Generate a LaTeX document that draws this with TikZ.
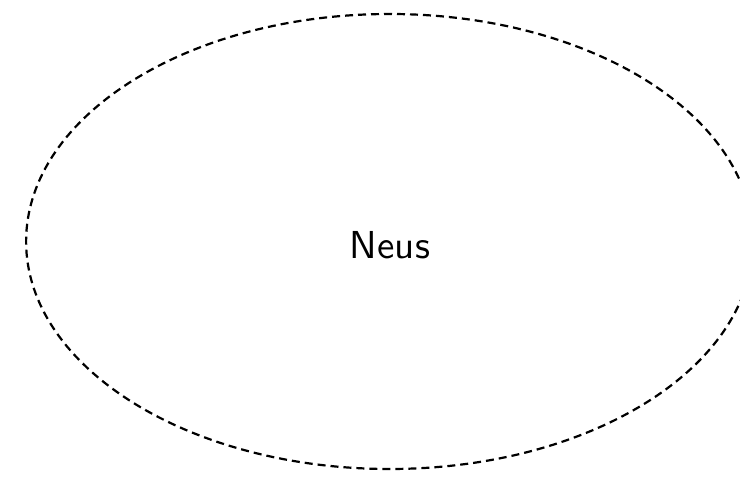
\documentclass[tikz,border=0pt]{standalone}
\usetikzlibrary{shapes.geometric}
\tikzset{
  cloud/.style={draw=black, line width=2.2pt, dash pattern=on 8pt off 5pt, ellipse, minimum width=727pt, minimum height=455pt, inner sep=0pt},
  lbl/.style={font=\sffamily, text=black, scale=3.9}
}
\begin{document}
\begin{tikzpicture}[x=1pt,y=1pt]
\useasboundingbox[fill=white] (0,0) rectangle (740,501);
\begin{scope}
\clip (0,0) rectangle (740,501);
\node[cloud] (e) at (389.6,259.5) {};
\end{scope}
\node[lbl] (t) at (390,256) {Neus};
\end{tikzpicture}
\end{document}
